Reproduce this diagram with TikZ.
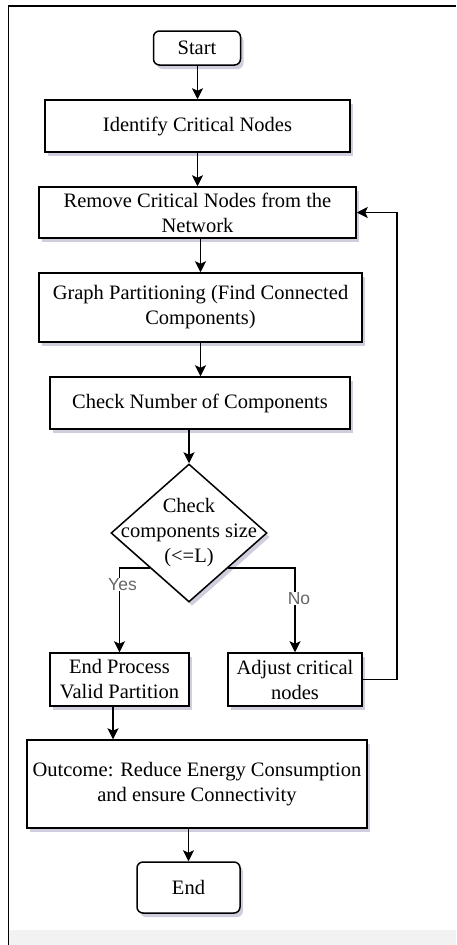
\documentclass[tikz,border=0pt]{standalone}
\usepackage{fontspec}
\setmainfont{Liberation Serif}
\newfontfamily\labelfont{Liberation Sans}
\usetikzlibrary{arrows.meta,shapes.geometric,shadows,calc}

\begin{document}
\begin{tikzpicture}[x=1pt,y=-1pt,
  font=\fontsize{20.5}{25}\selectfont,
  stepbox/.style={draw,line width=1.5pt,fill=white,align=center,inner sep=2pt,
    drop shadow={shadow xshift=3pt,shadow yshift=-4pt,fill=blue!30!black!35,opacity=0.55}},
  termbox/.style={stepbox,rounded corners=6pt},
  decision/.style={stepbox,diamond,inner sep=0pt},
  answer/.style={font=\labelfont\fontsize{17.5}{20}\selectfont,text=black!60,fill=white,inner sep=0.5pt},
  a/.style={-{Stealth[length=11pt,width=11pt,inset=2.5pt]},line width=1.5pt}]
\useasboundingbox (0,0) rectangle (456,945);
\fill[black!5] (9,930) rectangle (456,945);
\draw[line width=1.6pt] (8.5,945) -- (8.5,6) -- (456,6);
\node[termbox,minimum width=87pt,minimum height=34pt] (start) at (197,48) {Start};
\node[stepbox,minimum width=305pt,minimum height=52pt] (ident) at (197.5,126) {Identify Critical Nodes};
\node[stepbox,minimum width=317pt,minimum height=51pt] (remove) at (197.5,212.5) {Remove Critical Nodes from the\\Network};
\node[stepbox,minimum width=323pt,minimum height=69pt] (part) at (200.5,307.5) {Graph Partitioning (Find Connected\\Components)};
\node[stepbox,minimum width=300pt,minimum height=52pt] (count) at (200,403) {Check Number of Components};
\node[decision,minimum width=156pt,minimum height=138pt,
  label={[align=center]center:Check\\components size\\(<=L)}] (dec) at (189,533) {};
\node[stepbox,minimum width=139pt,minimum height=53pt] (endp) at (119.5,679.5) {End Process\\Valid Partition};
\node[stepbox,minimum width=134pt,minimum height=53pt] (adj) at (295,679.5) {Adjust critical\\nodes};
\node[stepbox,minimum width=340pt,minimum height=88pt] (out) at (197,784) {Outcome: Reduce Energy Consumption\\and ensure Connectivity};
\node[termbox,minimum width=103pt,minimum height=51pt] (stop) at (188.5,887.5) {End};
\draw[a] (start.south -| ident) -- (ident.north);
\draw[a] (ident.south) -- (remove.north);
\draw[a] (remove.south -| part) -- (part.north);
\draw[a] (part.south) -- (part.south |- count.north);
\draw[a] (count.south -| dec) -- (dec.north);
\draw[a] ($(dec.west)!0.5!(dec.south)$) -| (endp.north) node[answer,pos=0.6,xshift=3pt] (yes) {Yes};
\draw[a] ($(dec.east)!0.5!(dec.south)$) -| (adj.north) node[answer,pos=0.68,xshift=4pt] (no) {No};
\draw[a] (adj.east) -- ++(34,0) |- (remove.east);
\draw[a] ([xshift=-6.5pt]endp.south) -- ([xshift=-6.5pt]endp.south |- out.north);
\draw[a] (out.south -| stop) -- (stop.north);
\end{tikzpicture}
\end{document}
